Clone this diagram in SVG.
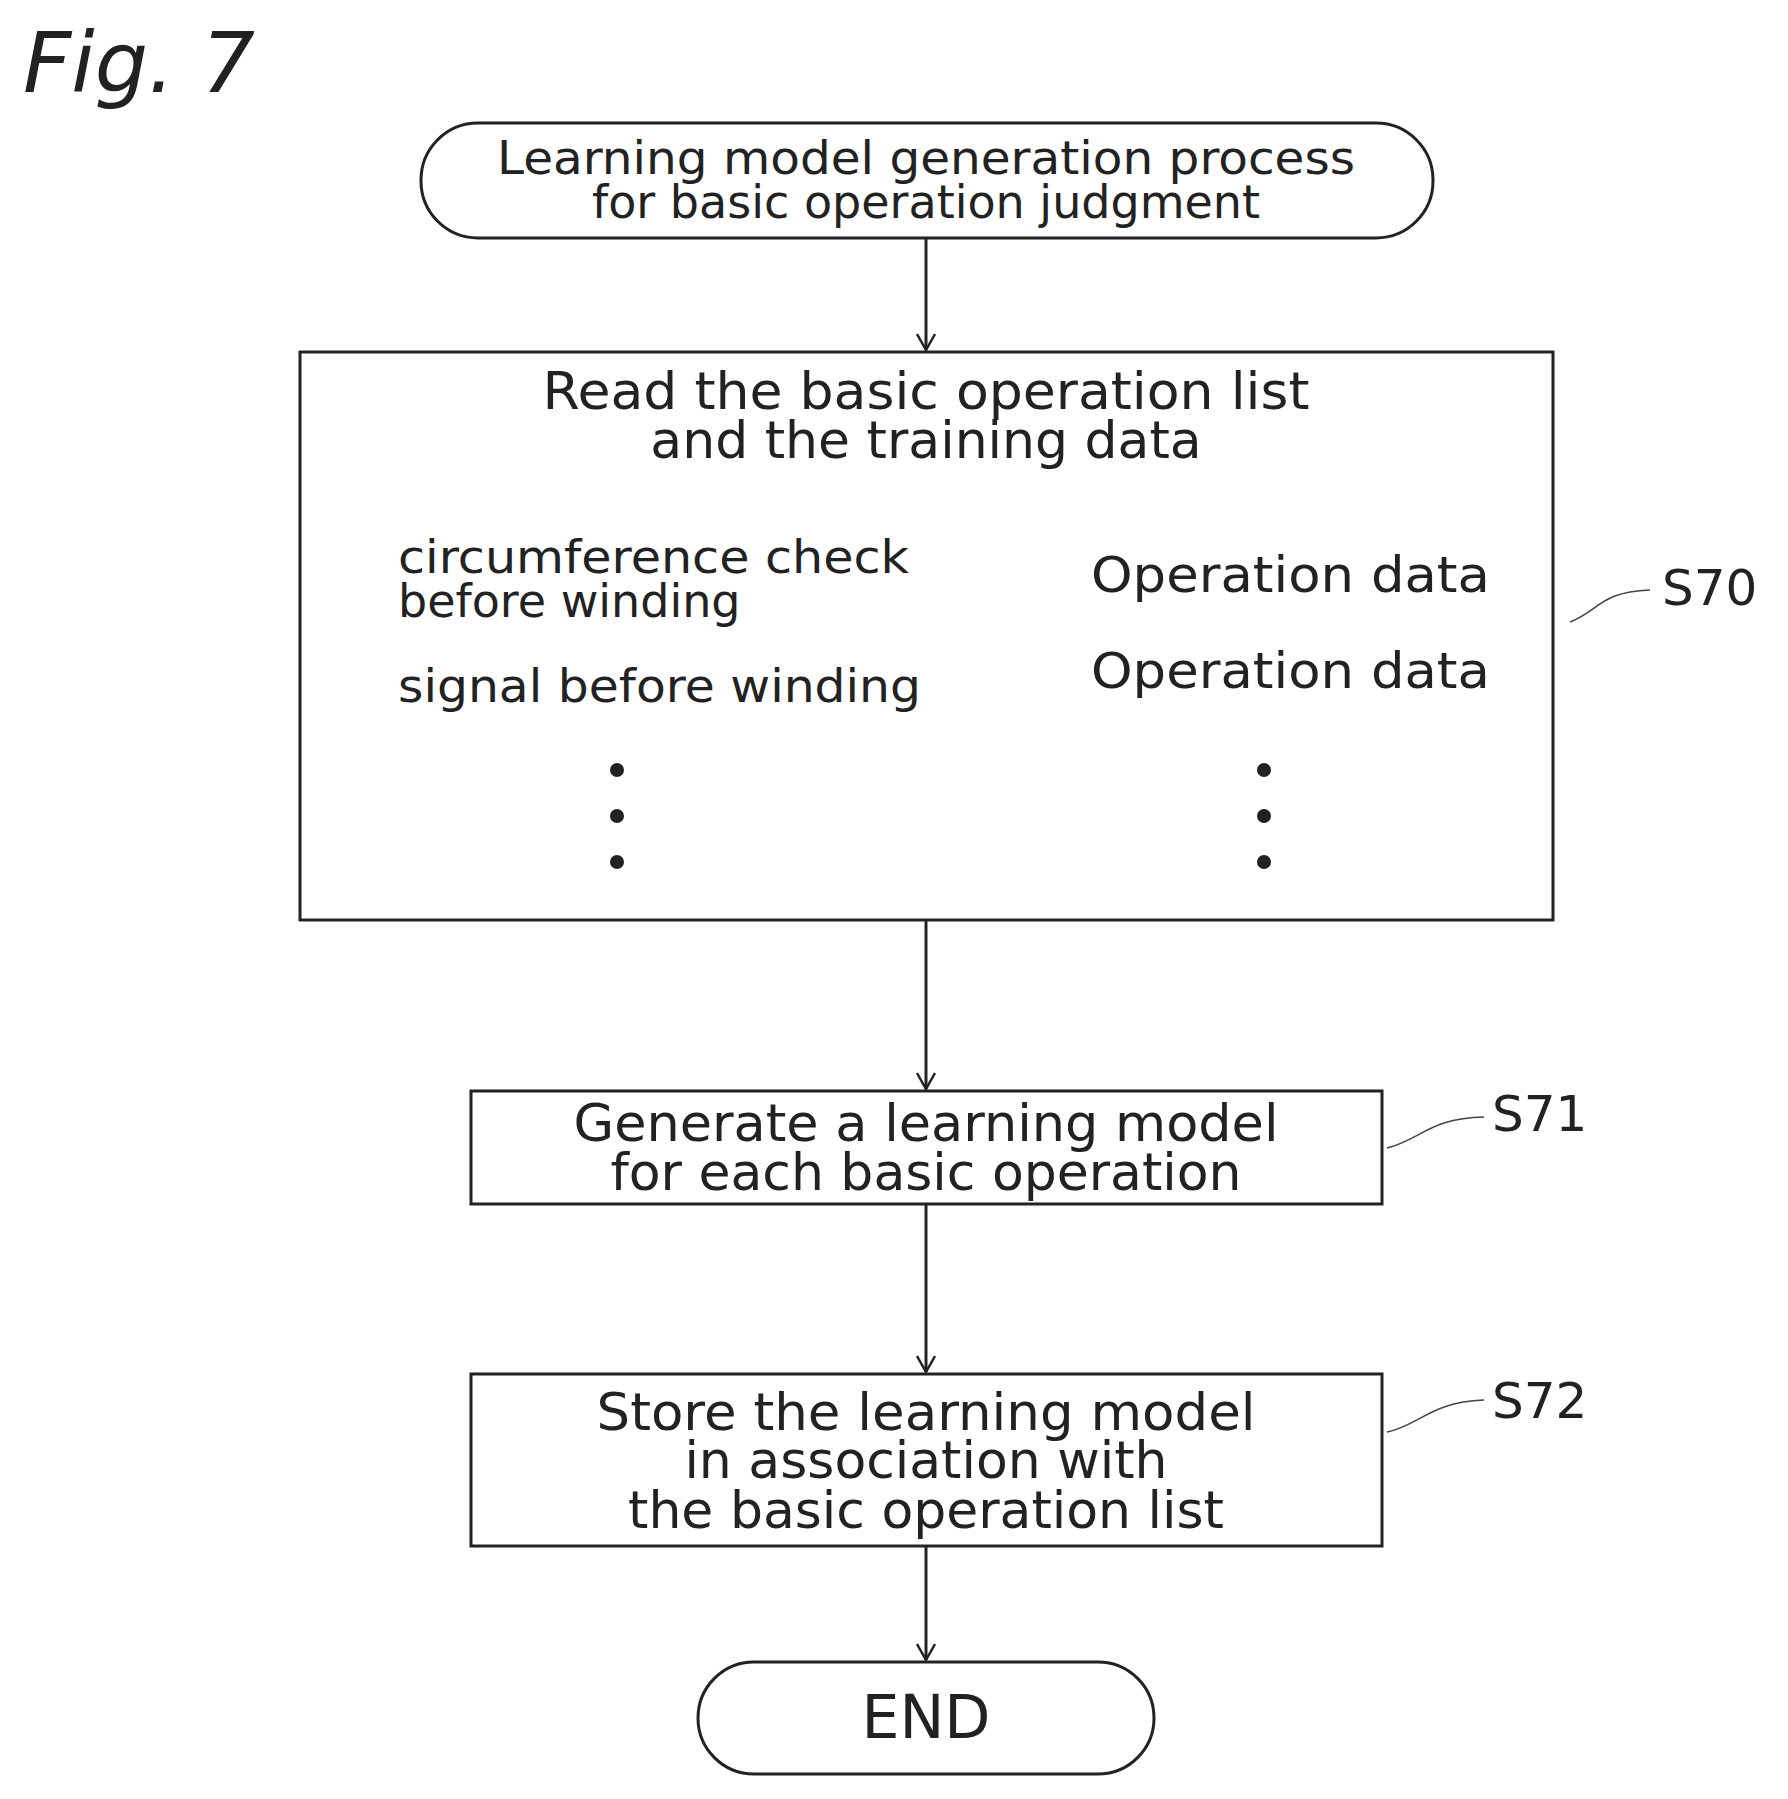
<svg xmlns="http://www.w3.org/2000/svg" width="1788" height="1799" viewBox="0 0 1788 1799">
<style>
.s{fill:#fff;stroke:#222;stroke-width:3}
.t{font-family:"DejaVu Sans",sans-serif;fill:#222;text-anchor:middle}
.l{font-family:"DejaVu Sans",sans-serif;fill:#222}
.c{fill:none;stroke:#222;stroke-width:3}
.d{fill:none;stroke:#444;stroke-width:1.5}
</style>
<defs><marker id="a" markerWidth="20" markerHeight="20" refX="18" refY="10" orient="auto" markerUnits="userSpaceOnUse" viewBox="0 0 20 20"><path d="M2,1 L18,10 L2,19" fill="none" stroke="#222" stroke-width="2.5"/></marker></defs>
<rect width="1788" height="1799" fill="#fff"/>
<text x="23" y="92" class="l" font-size="84" font-style="italic" font-family="DejaVu Sans">Fig. 7</text>
<g id="connectors">
<line class="c" x1="926" y1="238" x2="926" y2="350" marker-end="url(#a)"/>
<line class="c" x1="926" y1="920" x2="926" y2="1089" marker-end="url(#a)"/>
<line class="c" x1="926" y1="1204" x2="926" y2="1372" marker-end="url(#a)"/>
<line class="c" x1="926" y1="1546" x2="926" y2="1660" marker-end="url(#a)"/>
</g>
<g id="start"><rect class="s" x="421" y="123" width="1012" height="115" rx="57"/>
<text class="t" font-size="46" x="926" y="174" textLength="858" lengthAdjust="spacingAndGlyphs">Learning model generation process</text>
<text class="t" font-size="46" x="926" y="218">for basic operation judgment</text></g>
<g id="s70"><rect class="s" x="300" y="352" width="1253" height="568"/>
<text class="t" font-size="52" x="926" y="409" textLength="767" lengthAdjust="spacingAndGlyphs">Read the basic operation list</text>
<text class="t" font-size="52" x="926" y="458">and the training data</text>
<text class="l" font-size="46" x="398" y="573" textLength="511" lengthAdjust="spacingAndGlyphs">circumference check</text>
<text class="l" font-size="46" x="398" y="617">before winding</text>
<text class="l" font-size="46" x="398" y="702" textLength="523" lengthAdjust="spacingAndGlyphs">signal before winding</text>
<text class="l" font-size="50" x="1091" y="592" textLength="399" lengthAdjust="spacingAndGlyphs">Operation data</text>
<text class="l" font-size="50" x="1091" y="688" textLength="399" lengthAdjust="spacingAndGlyphs">Operation data</text>
<circle cx="617" cy="770" r="7" fill="#222"/><circle cx="617" cy="816" r="7" fill="#222"/><circle cx="617" cy="862" r="7" fill="#222"/>
<circle cx="1264" cy="770" r="7" fill="#222"/><circle cx="1264" cy="816" r="7" fill="#222"/><circle cx="1264" cy="862" r="7" fill="#222"/>
<path class="d" d="M1570,622 C1600,610 1600,592 1650,590"/>
<text class="l" font-size="50" x="1662" y="605">S70</text></g>
<g id="s71"><rect class="s" x="471" y="1091" width="911" height="113"/>
<text class="t" font-size="52" x="926" y="1141" textLength="705" lengthAdjust="spacingAndGlyphs">Generate a learning model</text>
<text class="t" font-size="52" x="926" y="1190">for each basic operation</text>
<path class="d" d="M1387,1148 C1420,1140 1430,1118 1484,1117"/>
<text class="l" font-size="50" x="1492" y="1131">S71</text></g>
<g id="s72"><rect class="s" x="471" y="1374" width="911" height="172"/>
<text class="t" font-size="52" x="926" y="1430" textLength="659" lengthAdjust="spacingAndGlyphs">Store the learning model</text>
<text class="t" font-size="52" x="926" y="1478">in association with</text>
<text class="t" font-size="52" x="926" y="1528">the basic operation list</text>
<path class="d" d="M1387,1432 C1420,1425 1430,1402 1484,1400"/>
<text class="l" font-size="50" x="1492" y="1418">S72</text></g>
<g id="end"><rect class="s" x="698" y="1662" width="456" height="112" rx="56"/>
<text class="t" font-size="60" x="926" y="1738">END</text></g>
</svg>
